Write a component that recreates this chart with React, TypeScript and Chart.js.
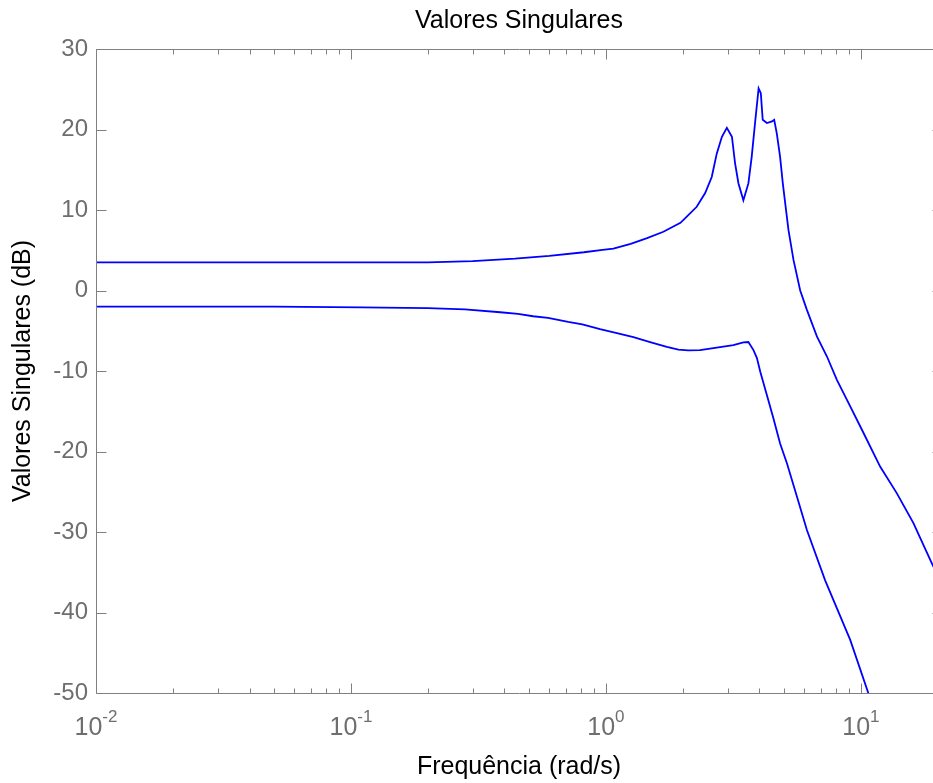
import React, { useEffect, useRef } from 'react';
import { Chart, registerables } from 'chart.js';

Chart.register(...registerables);

const FONT = "'Liberation Sans', Arial, sans-serif";

// Frequency axis range (rad/s) and tick decades
const xMin = 0.01;
const xMax = 20.8;
const xMajorTicks = [0.01, 0.1, 1, 10];

// Magnitude axis (dB)
const yMin = -50;
const yMax = 30;
const yStep = 10;

// Largest singular value
const freqUpper = [0.01, 0.2, 0.3, 0.44, 0.6, 0.82, 0.97, 1.07, 1.25, 1.45, 1.68, 1.96, 2.08, 2.27, 2.45, 2.6, 2.72, 2.85, 2.98, 3.12, 3.21, 3.31, 3.46, 3.62, 3.73, 3.85, 3.97, 4.05, 4.12, 4.28, 4.48, 4.57, 4.68, 4.82, 4.94, 5.05, 5.2, 5.44, 5.78, 6.14, 6.72, 7.36, 8.05, 9.08, 10.24, 11.91, 13.84, 16.07, 18.98, 20.8];
const magUpper = [3.5, 3.5, 3.65, 3.95, 4.3, 4.75, 5.05, 5.2, 5.8, 6.5, 7.3, 8.4, 9.2, 10.4, 12.1, 14.1, 17.0, 19.1, 20.2, 19.1, 15.8, 13.3, 11.2, 13.3, 16.6, 21.0, 25.1, 24.5, 21.2, 20.8, 21.0, 21.2, 19.5, 16.6, 13.3, 10.8, 7.5, 3.8, 0.0, -2.4, -5.7, -8.2, -11.1, -14.4, -17.7, -21.9, -25.2, -28.9, -33.9, -36.5];

// Smallest singular value
const freqLower = [0.01, 0.05, 0.11, 0.2, 0.28, 0.385, 0.452, 0.518, 0.593, 0.711, 0.808, 0.948, 1.104, 1.282, 1.49, 1.733, 1.924, 2.1, 2.339, 2.72, 3.16, 3.46, 3.62, 3.79, 3.91, 4.03, 4.28, 4.54, 4.82, 5.13, 5.61, 6.14, 7.24, 9.08, 10.69, 11.5];
const magLower = [-2.0, -2.0, -2.1, -2.2, -2.35, -2.7, -2.9, -3.2, -3.4, -3.9, -4.2, -4.8, -5.3, -5.8, -6.4, -7.0, -7.35, -7.45, -7.4, -7.1, -6.8, -6.45, -6.4, -7.4, -8.4, -10.1, -13.0, -15.9, -19.0, -21.5, -25.6, -29.75, -36.0, -43.4, -50.0, -53.0];

const AXIS_COLOR = '#808080';
const TICK_TEXT = '#6e6e6e';

const axesPlugin = {
  id: 'matlabAxes',
  afterDatasetsDraw(chart: any) {
    const { ctx, chartArea, scales } = chart;
    const { left, right, top, bottom } = chartArea;
    const xs = scales.x;
    const ys = scales.y;
    const L = Math.round(left) + 0.5;
    const R = Math.round(right) + 0.5;
    const T = Math.round(top) + 0.5;
    const B = Math.round(bottom) + 0.5;
    ctx.save();
    ctx.strokeStyle = AXIS_COLOR;
    ctx.lineWidth = 1;
    ctx.beginPath();
    ctx.rect(L, T, R - L, B - T);
    ys.ticks.forEach((t: any) => {
      const py = Math.round(ys.getPixelForValue(t.value)) + 0.5;
      ctx.moveTo(L, py);
      ctx.lineTo(L + 10, py);
      ctx.moveTo(R, py);
      ctx.lineTo(R - 10, py);
    });
    xMajorTicks.forEach((d) => {
      for (let m = 1; m <= 9; m++) {
        const v = d * m;
        if (v < xMin || v > xMax) continue;
        const len = m === 1 ? 10 : 5;
        const px = Math.round(xs.getPixelForValue(v)) + 0.5;
        ctx.moveTo(px, T);
        ctx.lineTo(px, T + len);
        ctx.moveTo(px, B);
        ctx.lineTo(px, B - len);
      }
    });
    ctx.stroke();
    ctx.restore();
  },
  afterDraw(chart: any) {
    const { ctx, chartArea, scales } = chart;
    const xs = scales.x;
    const base = chartArea.bottom;
    ctx.save();
    ctx.fillStyle = TICK_TEXT;
    ctx.textBaseline = 'alphabetic';
    ctx.textAlign = 'left';
    xMajorTicks.forEach((v) => {
      const px = xs.getPixelForValue(v);
      const exp = String(Math.round(Math.log10(v)));
      ctx.font = `25px ${FONT}`;
      const w1 = ctx.measureText('10').width;
      ctx.font = `17px ${FONT}`;
      const w2 = ctx.measureText(exp).width;
      const x0 = px - (w1 + w2) / 2;
      ctx.font = `25px ${FONT}`;
      ctx.fillText('10', x0, base + 42);
      ctx.font = `17px ${FONT}`;
      ctx.fillText(exp, x0 + w1, base + 29);
    });
    ctx.restore();
  },
};

export default function App() {
  const ref = useRef<HTMLCanvasElement>(null);
  useEffect(() => {
    if (!ref.current) return;
    const chart = new Chart(ref.current, {
      type: 'line',
      data: {
        datasets: [
          {
            label: 'σ1',
            data: freqUpper.map((f, i) => ({ x: f, y: magUpper[i] })),
            borderColor: '#0000ff',
            borderWidth: 1.8,
            pointRadius: 0,
            tension: 0,
            fill: false,
          },
          {
            label: 'σ2',
            data: freqLower.map((f, i) => ({ x: f, y: magLower[i] })),
            borderColor: '#0000ff',
            borderWidth: 1.8,
            pointRadius: 0,
            tension: 0,
            fill: false,
          },
        ],
      },
      options: {
        responsive: false,
        animation: false,
        devicePixelRatio: 1,
        layout: { padding: { left: 0, right: 18, top: 0, bottom: 0 } },
        plugins: {
          legend: { display: false },
          tooltip: { enabled: false },
          title: {
            display: true,
            text: 'Valores Singulares',
            color: '#000000',
            fullSize: false,
            font: { family: FONT, size: 25, weight: 'normal' },
            padding: { top: 6.5, bottom: 12.5 },
          },
        },
        scales: {
          x: {
            type: 'logarithmic',
            min: xMin,
            max: xMax,
            grid: { display: false, drawTicks: false },
            border: { display: false },
            ticks: { display: false },
            title: {
              display: true,
              text: 'Frequência (rad/s)',
              color: '#000000',
              font: { family: FONT, size: 25, weight: 'normal' },
              padding: { top: 0, bottom: 1 },
            },
            afterFit: (s: any) => {
              s.height = 90;
            },
          },
          y: {
            type: 'linear',
            min: yMin,
            max: yMax,
            grid: { display: false, drawTicks: false },
            border: { display: false },
            ticks: {
              stepSize: yStep,
              color: TICK_TEXT,
              font: { family: FONT, size: 24 },
              padding: 8,
            },
            title: {
              display: true,
              text: 'Valores Singulares (dB)',
              color: '#000000',
              font: { family: FONT, size: 25, weight: 'normal' },
              padding: { top: 8.5, bottom: 0 },
            },
            afterFit: (s: any) => {
              s.width = 96;
            },
          },
        },
      },
      plugins: [axesPlugin],
    } as any);
    return () => chart.destroy();
  }, []);

  return (
    <div
      style={{
        position: 'fixed',
        left: 0,
        top: 0,
        width: 933,
        height: 783,
        overflow: 'hidden',
        background: '#ffffff',
      }}
    >
      <canvas ref={ref} width={960} height={783} style={{ display: 'block' }} />
    </div>
  );
}
